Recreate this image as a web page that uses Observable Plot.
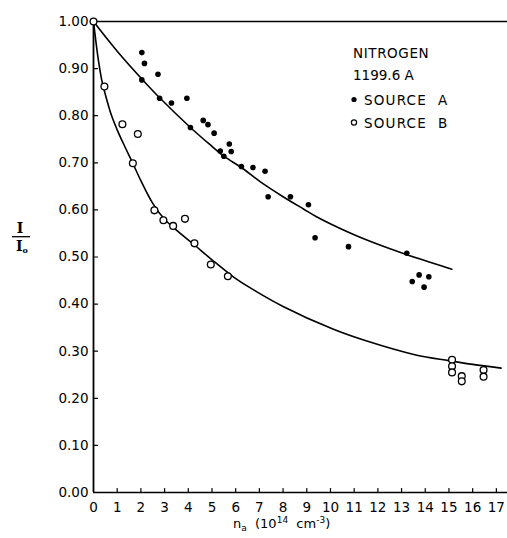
<!DOCTYPE html>
<html>
<head>
<meta charset="utf-8">
<script src="https://cdn.jsdelivr.net/npm/d3@7"></script>
<script src="https://cdn.jsdelivr.net/npm/@observablehq/plot@0.6"></script>
<style>
  html, body { margin: 0; padding: 0; background: #fff; }
  #chart { width: 507px; height: 538px; }
</style>
</head>
<body>
<div id="chart"></div>
<script>
// Source A (filled dots)
const srcAx = [2.04, 2.15, 2.72, 2.04, 2.79, 3.29, 3.94, 4.09, 4.63, 4.83, 5.09, 5.35, 5.73, 5.81, 5.50, 6.24, 6.73, 7.24, 7.37, 8.31, 9.07, 9.35, 10.76, 13.22, 13.45, 13.74, 13.95, 14.15];
const srcAy = [0.934, 0.911, 0.888, 0.876, 0.837, 0.827, 0.837, 0.775, 0.790, 0.781, 0.763, 0.725, 0.740, 0.724, 0.714, 0.692, 0.690, 0.682, 0.628, 0.628, 0.611, 0.541, 0.522, 0.508, 0.448, 0.462, 0.436, 0.458];
// Source B (open circles)
const srcBx = [0, 0.46, 1.22, 1.87, 1.66, 2.57, 2.95, 3.36, 3.86, 4.26, 4.95, 5.67, 15.13, 15.13, 15.13, 15.54, 15.54, 16.46, 16.46];
const srcBy = [1.00, 0.862, 0.782, 0.761, 0.699, 0.599, 0.578, 0.566, 0.581, 0.529, 0.484, 0.459, 0.282, 0.268, 0.255, 0.247, 0.236, 0.260, 0.246];
// Fitted curves
const curveAx = [0, 1.0, 2.04, 2.79, 4.09, 4.88, 5.5, 6.24, 7.03, 8.0, 8.86, 9.43, 10.83, 12.0, 13.22, 14.2, 15.12];
const curveAy = [1.0, 0.937, 0.878, 0.838, 0.775, 0.740, 0.714, 0.690, 0.660, 0.628, 0.602, 0.585, 0.551, 0.527, 0.505, 0.489, 0.474];
const curveBx = [0, 0.1, 0.2, 0.35, 0.5, 0.75, 1.0, 1.25, 1.65, 2.0, 2.5, 3.0, 3.5, 4.25, 5.0, 5.9, 6.6, 8.0, 10.1, 11.5, 13.6, 15.0, 16.0, 17.2];
const curveBy = [1.0, 0.958, 0.920, 0.875, 0.845, 0.802, 0.770, 0.742, 0.700, 0.662, 0.614, 0.580, 0.557, 0.526, 0.494, 0.458, 0.435, 0.395, 0.347, 0.322, 0.292, 0.280, 0.272, 0.264];
// Ticks
const xTicks = [0,1,2,3,4,5,6,7,8,9,10,11,12,13,14,15,16,17];
const yTicks = [0,0.1,0.2,0.3,0.4,0.5,0.6,0.7,0.8,0.9,1.0];
const legendTitle = ["NITROGEN", "1199.6 A"];
const seriesNames = ["SOURCE  A", "SOURCE  B"];

const A = srcAx.map((x, i) => ({x, y: srcAy[i]}));
const B = srcBx.map((x, i) => ({x, y: srcBy[i]}));
const cA = curveAx.map((x, i) => ({x, y: curveAy[i]}));
const cB = curveBx.map((x, i) => ({x, y: curveBy[i]}));

const font = "DejaVu Sans, sans-serif";
const tickShape = {draw(context, l) { context.moveTo(0, 0); context.lineTo(0, -l); }};

const chart = Plot.plot({
  width: 507,
  height: 538,
  marginLeft: 93,
  marginRight: 0,
  marginTop: 21,
  marginBottom: 46,
  x: {domain: [0, 17.47], axis: null},
  y: {domain: [0, 1], axis: null},
  style: {fontFamily: font, fontSize: "13.5px", color: "black", background: "white", overflow: "visible"},
  marks: [
    Plot.ruleY([0, 1], {stroke: "black", strokeWidth: 1.6}),
    Plot.ruleX([0], {stroke: "black", strokeWidth: 1.8}),
    Plot.axisY(yTicks, {anchor: "left", tickSize: 0, tickPadding: 5, label: null, tickFormat: d => d.toFixed(2), fontSize: 13.5}),
    Plot.axisX(xTicks, {anchor: "bottom", tickSize: 0, tickPadding: 10, label: null, tickFormat: d => String(d), fontSize: 13.5}),
    // inward tick marks
    Plot.vector(yTicks.filter(d => d > 0 && d < 1), {x: 0, y: d => d, length: 4, rotate: 90, anchor: "start", shape: tickShape, stroke: "black", strokeWidth: 1.2}),
    Plot.vector(xTicks.filter(d => d > 0), {x: d => d, y: 0, length: 4, rotate: 0, anchor: "start", shape: tickShape, stroke: "black", strokeWidth: 1.2}),
    Plot.line(cA, {x: "x", y: "y", curve: "catmull-rom", stroke: "black", strokeWidth: 1.6}),
    Plot.line(cB, {x: "x", y: "y", curve: "catmull-rom", stroke: "black", strokeWidth: 1.6}),
    Plot.dot(A, {x: "x", y: "y", r: 2.8, fill: "black", stroke: "none"}),
    Plot.dot(B, {x: "x", y: "y", r: 3.4, fill: "white", stroke: "black", strokeWidth: 1.3})
  ]
});

document.getElementById("chart").appendChild(chart);

const svg = d3.select(chart);
// Legend
const lg = svg.append("g").attr("font-family", font).attr("font-size", 13.5).attr("fill", "black").attr("text-anchor", "start");
lg.append("text").attr("x", 353).attr("y", 58).attr("letter-spacing", 0.6).text(legendTitle[0]);
lg.append("text").attr("x", 353).attr("y", 80).text(legendTitle[1]);
lg.append("circle").attr("cx", 354).attr("cy", 99.5).attr("r", 2.6).attr("fill", "black");
lg.append("text").attr("x", 364).attr("y", 105).attr("letter-spacing", 1.2).style("white-space", "pre").text(seriesNames[0]);
lg.append("circle").attr("cx", 354).attr("cy", 122.5).attr("r", 2.6).attr("fill", "white").attr("stroke", "black").attr("stroke-width", 1.2);
lg.append("text").attr("x", 364).attr("y", 128).attr("letter-spacing", 1.2).style("white-space", "pre").text(seriesNames[1]);

// Y axis label: I / I0
const yl = svg.append("g").attr("font-family", "DejaVu Serif, serif").attr("font-size", 14).attr("font-weight", "bold").attr("text-anchor", "middle");
yl.append("text").attr("x", 20).attr("y", 233).text("I");
yl.append("line").attr("x1", 12).attr("x2", 30).attr("y1", 236.7).attr("y2", 236.7).attr("stroke", "black").attr("stroke-width", 1.3);
const lo = yl.append("text").attr("x", 22).attr("y", 251);
lo.append("tspan").text("I");
lo.append("tspan").attr("font-size", 8).attr("dy", 1.5).text("o");

// X axis label
const xl = svg.append("text").attr("font-family", font).attr("font-size", 13).attr("text-anchor", "start").attr("x", 233).attr("y", 528).style("white-space", "pre");
xl.append("tspan").text("n");
xl.append("tspan").attr("font-size", 9).attr("dy", 3).text("a");
xl.append("tspan").attr("dy", -3).text("  (10");
xl.append("tspan").attr("font-size", 9).attr("dy", -5).text("14");
xl.append("tspan").attr("dy", 5).text("  cm");
xl.append("tspan").attr("font-size", 9).attr("dy", -5).text("-3");
xl.append("tspan").attr("dy", 5).text(")");
</script>
</body>
</html>
